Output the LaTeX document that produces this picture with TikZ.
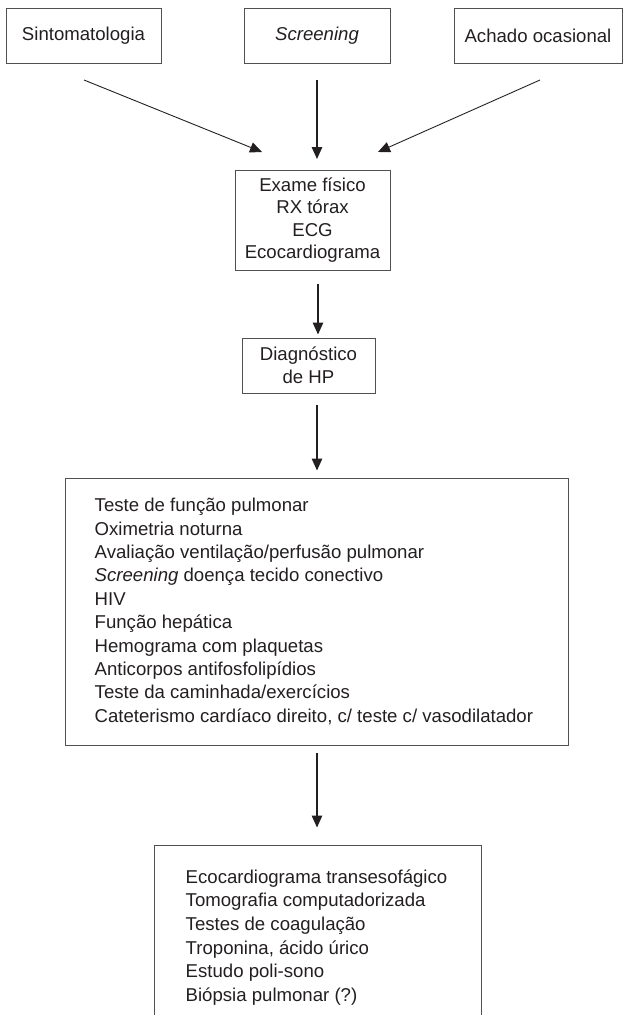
\documentclass[tikz,border=0pt]{standalone}
\usepackage{fontspec}
\setmainfont{Liberation Sans}
\usetikzlibrary{arrows.meta,calc}
\definecolor{ink}{HTML}{231F20}
\definecolor{frame}{HTML}{505050}
\begin{document}
\begin{tikzpicture}[x=1pt,y=-1pt,
  txt/.style={font=\fontsize{18.6}{23.4}\selectfont, text=ink, inner sep=0pt},
  box/.style={draw=frame, line width=1pt, inner sep=0pt, txt, align=center},
  arr/.style={-{Triangle[length=12pt,width=10.5pt]}, line width=1.4pt, draw=ink},
  sarr/.style={-{Triangle[length=12pt,width=10.5pt]}, line width=0.9pt, draw=ink}
]
\useasboundingbox (0,0) rectangle (624,1015);
% top row
\node[box, minimum width=155, minimum height=55] (sint) at (83.5,35.5) {Sintomatologia};
\node[box, minimum width=146, minimum height=55] (scr) at (317,35.5) {\itshape Screening};
\node[box, minimum width=168, minimum height=55] (ach) at (538,35.5) {Achado ocasional};
% exam box
\node[box, minimum width=155, minimum height=100, font=\fontsize{18.6}{22.4}\selectfont] (exam) at (312.5,220)
  {Exame físico\\RX tórax\\ECG\\Ecocardiograma};
% diagnosis
\node[box, minimum width=133, minimum height=55, font=\fontsize{18.6}{23}\selectfont] (diag) at (308.5,365.5)
  {Diagnóstico\\de HP};
% big box
\node[box, minimum width=503, minimum height=267] (big) at (316.5,611.5) {};
\node[txt, align=left, anchor=west] (bigtext) at ($(big.west)+(30,0)$)
  {Teste de função pulmonar\\
   Oximetria noturna\\
   Avaliação ventilação/perfusão pulmonar\\
   \textit{Screening} doença tecido conectivo\\
   HIV\\
   Função hepática\\
   Hemograma com plaquetas\\
   Anticorpos antifosfolipídios\\
   Teste da caminhada/exercícios\\
   Cateterismo cardíaco direito, c/ teste c/ vasodilatador};
% bottom box
\node[box, minimum width=327, minimum height=185] (bot) at (317.5,937.5) {};
\node[txt, align=left, anchor=west, font=\fontsize{18.6}{23.7}\selectfont] (bottext) at ($(bot.west)+(32,0)$)
  {Ecocardiograma transesofágico\\
   Tomografia computadorizada\\
   Testes de coagulação\\
   Troponina, ácido úrico\\
   Estudo poli-sono\\
   Biópsia pulmonar (?)};
% arrows
\coordinate (s1) at (84,80);
\coordinate (e1) at (262,152);
\coordinate (s2) at (317,80);
\coordinate (e2) at (317,159);
\coordinate (s3) at (540,80);
\coordinate (e3) at (378,152);
\draw[sarr] (s1) -- (e1);
\draw[arr] (s2) -- (e2);
\draw[sarr] (s3) -- (e3);
\draw[arr] ($(exam.south)+(5.5,13)$) -- ($(diag.north)+(9.5,-3)$);
\draw[arr] ($(diag.south)+(8.5,11)$) -- ($(big.north)+(0.5,-7)$);
\draw[arr] ($(big.south)+(0.5,7)$) -- ($(bot.north)+(-0.5,-17)$);
\end{tikzpicture}
\end{document}
